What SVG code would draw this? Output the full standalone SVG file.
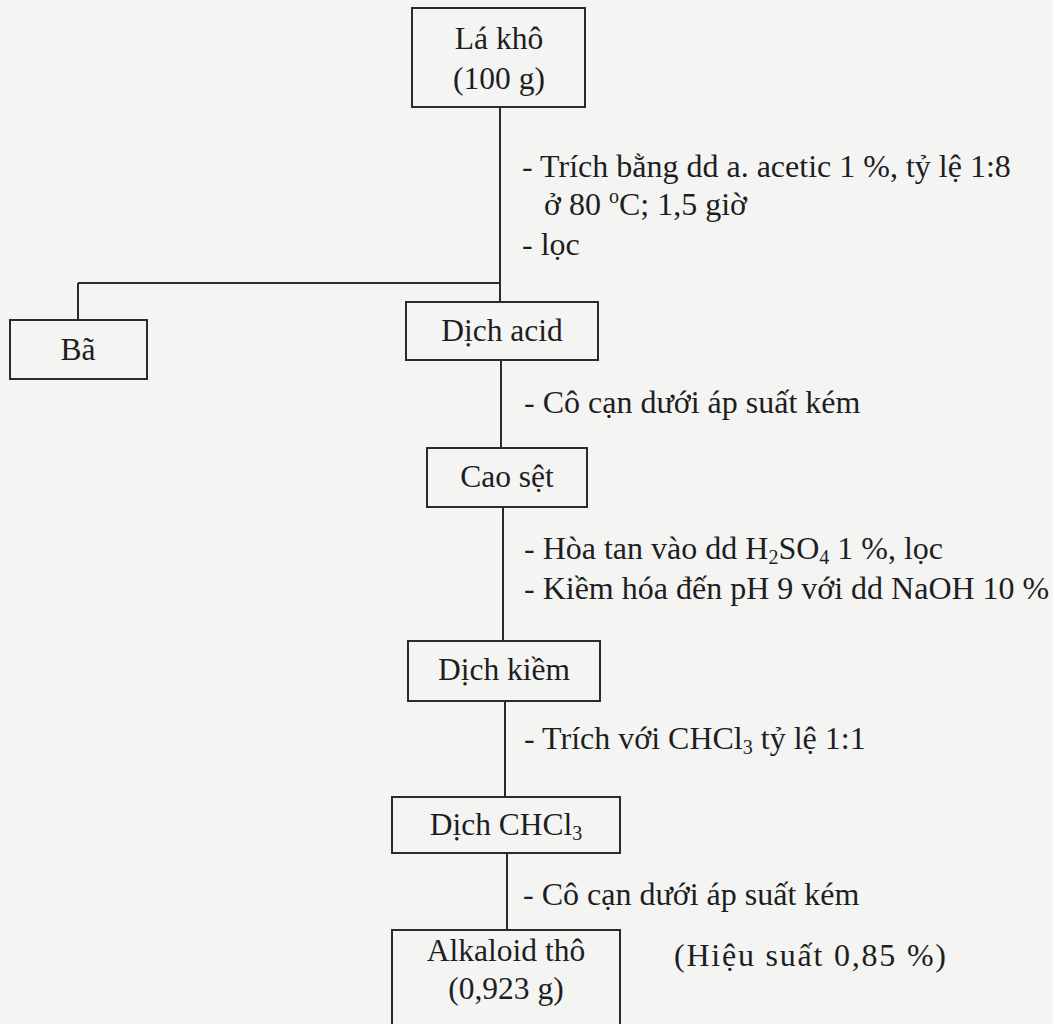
<svg xmlns="http://www.w3.org/2000/svg" width="1053" height="1024" viewBox="0 0 1053 1024">
<style>
  .bg{fill:#f4f4f3}
  .box{fill:none;stroke:#2a2a2a;stroke-width:2}
  .ln{fill:none;stroke:#2a2a2a;stroke-width:2}
  text{font-family:"Liberation Serif","Times New Roman",serif;font-size:32px;fill:#1e1e1e}
  .c{text-anchor:middle;font-size:31.5px}
  .sub{font-size:20px}
</style>
<rect class="bg" x="0" y="0" width="1053" height="1024"/>
<g id="connectors">
  <path class="ln" d="M500 107 V302"/>
  <path class="ln" d="M78 283 H500"/>
  <path class="ln" d="M78 283 V320"/>
  <path class="ln" d="M501 360 V448"/>
  <path class="ln" d="M503 507 V641"/>
  <path class="ln" d="M505 701 V797"/>
  <path class="ln" d="M507 853 V930"/>
</g>
<g id="node-la-kho">
  <rect class="box" x="412" y="8" width="173" height="99"/>
  <text class="c" x="499" y="49">Lá khô</text>
  <text class="c" x="499" y="89">(100 g)</text>
</g>
<g id="label-trich">
  <text x="522" y="177">- Trích bằng dd a. acetic 1 %, tỷ lệ 1:8</text>
  <text x="544" y="215">ở 80 <tspan class="sub" dy="-12">o</tspan><tspan dy="12">C; 1,5 giờ</tspan></text>
  <text x="522" y="255">- lọc</text>
</g>
<g id="node-ba">
  <rect class="box" x="10" y="320" width="137" height="59"/>
  <text class="c" x="78" y="360">Bã</text>
</g>
<g id="node-dich-acid">
  <rect class="box" x="406" y="302" width="192" height="58"/>
  <text class="c" x="502" y="341">Dịch acid</text>
</g>
<g id="label-co-can-1">
  <text x="524" y="413">- Cô cạn dưới áp suất kém</text>
</g>
<g id="node-cao-set">
  <rect class="box" x="427" y="448" width="160" height="59"/>
  <text class="c" x="507" y="487">Cao sệt</text>
</g>
<g id="label-hoa-tan">
  <text x="524" y="559">- Hòa tan vào dd H<tspan class="sub" dy="5">2</tspan><tspan dy="-5">SO</tspan><tspan class="sub" dy="5">4</tspan><tspan dy="-5"> 1 %, lọc</tspan></text>
  <text x="524" y="599">- Kiềm hóa đến pH 9 với dd NaOH 10 %</text>
</g>
<g id="node-dich-kiem">
  <rect class="box" x="408" y="641" width="192" height="60"/>
  <text class="c" x="504" y="680">Dịch kiềm</text>
</g>
<g id="label-trich-chcl3">
  <text x="524" y="749">- Trích với CHCl<tspan class="sub" dy="5">3</tspan><tspan dy="-5"> tỷ lệ 1:1</tspan></text>
</g>
<g id="node-dich-chcl3">
  <rect class="box" x="392" y="797" width="228" height="56"/>
  <text class="c" x="506" y="835">Dịch CHCl<tspan class="sub" dy="5">3</tspan></text>
</g>
<g id="label-co-can-2">
  <text x="523" y="905">- Cô cạn dưới áp suất kém</text>
</g>
<g id="node-alkaloid">
  <rect class="box" x="392" y="930" width="228" height="110"/>
  <text class="c" x="506" y="961">Alkaloid thô</text>
  <text class="c" x="506" y="999">(0,923 g)</text>
</g>
<g id="label-hieu-suat">
  <text x="674" y="966" textLength="272" lengthAdjust="spacing">(Hiệu suất 0,85 %)</text>
</g>
</svg>
